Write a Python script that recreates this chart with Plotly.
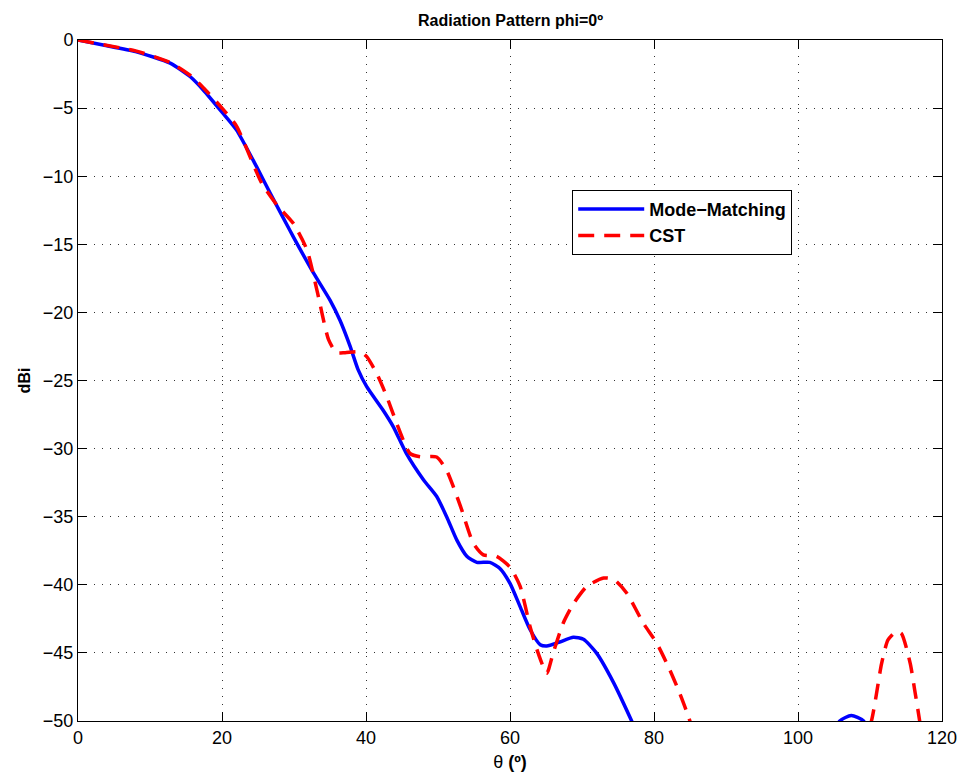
import plotly.graph_objects as go

# Mode-Matching (blue, solid)
mm_theta = [0, 3.5, 8, 12.8, 15.6, 17.4, 20, 22, 24.8, 26.7, 29.4, 30.4, 32.7, 35, 36.4,
            37.8, 38.9, 40.1, 42.4, 43.8, 45.6, 48.0, 49.8, 51.2, 52.6, 54.0, 55.4, 57.2,
            58.6, 60, 61.4, 62.8, 64.2, 65.1, 66.9, 68.8, 70.2, 72, 74.4, 76.9, 79, 82,
            90, 100, 104, 105.8, 107.4, 109.1, 111, 115, 120]
mm_dbi = [0, -0.37, -0.85, -1.7, -2.7, -3.67, -5.3, -6.6, -9.3, -11.25, -13.95, -14.93,
          -17.1, -19.1, -20.6, -22.5, -24.2, -25.45, -27.2, -28.4, -30.35, -32.3, -33.5,
          -35.0, -36.7, -37.9, -38.35, -38.35, -38.8, -39.9, -41.6, -43.3, -44.4, -44.5,
          -44.2, -43.85, -44.0, -45.0, -47.2, -50.0, -52.5, -56, -62, -58, -52, -50.0,
          -49.6, -50.0, -53, -60, -65]

# CST (red, dashed)
cst_theta = [0, 3.5, 8, 12.8, 15.6, 17.4, 20, 22, 25.5, 27.6, 29.9, 31.8, 33.2, 34.8,
             35.9, 37.1, 39.2, 40.1, 41.5, 42.9, 44.3, 46.1, 47.5, 49.8, 51.2, 53.1, 54.9,
             56.3, 58.1, 60, 61.4, 62.8, 63.9, 65.1, 66.0, 67.4, 68.8, 70.7, 73.0, 74.4,
             76.2, 78.5, 80.4, 82.2, 83.6, 84.8, 86.5, 92, 100, 106, 110.2, 110.9, 111.6,
             112.5, 113.7, 114.4, 115.6, 116.2, 116.9, 118, 120]
cst_dbi = [0, -0.35, -0.8, -1.65, -2.6, -3.5, -5.0, -6.3, -10.5, -12.1, -13.46, -15.4,
           -18.4, -22.0, -22.96, -22.96, -22.9, -23.25, -24.5, -26.2, -28.2, -30.35, -30.6,
           -30.62, -31.6, -34.2, -36.95, -37.8, -37.9, -38.7, -40.1, -43.1, -45.0, -46.5,
           -45.0, -42.8, -41.4, -40.1, -39.5, -39.6, -40.6, -42.8, -44.3, -46.25, -48.0,
           -49.7, -52.5, -60, -62, -57, -50.0, -48.0, -45.8, -44.05, -43.4, -43.6, -45.8,
           -47.7, -50.0, -54, -58]

x_ticks = [0, 20, 40, 60, 80, 100, 120]
y_ticks = [0, -5, -10, -15, -20, -25, -30, -35, -40, -45, -50]

FONT = "Liberation Sans, Arial, Helvetica, sans-serif"

fig = go.Figure()
fig.add_trace(go.Scatter(x=mm_theta, y=mm_dbi, mode="lines", name="<b>Mode\u2212Matching</b>",
                         line=dict(color="#0000ff", width=3.5, shape="spline", smoothing=0.6)))
fig.add_trace(go.Scatter(x=cst_theta, y=cst_dbi, mode="lines", name="<b>CST</b>",
                         line=dict(color="#ff0000", width=3.5, dash="16px,10px",
                                   shape="spline", smoothing=0.6)))

axis_common = dict(showline=True, mirror="ticks", linecolor="black", linewidth=1,
                   ticks="inside", ticklen=9, tickcolor="black", tickwidth=1,
                   showgrid=True, gridcolor="#333333", gridwidth=1, griddash="1px,7px",
                   zeroline=False, automargin=False,
                   tickfont=dict(family=FONT, size=18, color="black"))

fig.update_xaxes(range=[0, 120], tickvals=x_ticks, ticktext=[str(v) for v in x_ticks],
                 title=dict(text="\u03b8 <b>(\u00ba)</b>", font=dict(family=FONT, size=18, color="black"),
                            standoff=8),
                 **axis_common)
fig.update_yaxes(range=[-50, 0], tickvals=y_ticks,
                 ticktext=[("\u2212" + str(-v)) if v < 0 else str(v) for v in y_ticks],
                 title=dict(text="<b>dBi</b>", font=dict(family=FONT, size=16, color="black"),
                            standoff=8),
                 **axis_common)

fig.update_layout(
    width=965, height=778,
    margin=dict(l=78, r=23, t=40, b=57),
    paper_bgcolor="white", plot_bgcolor="white",
    title=dict(text="<b>Radiation Pattern phi=0\u00ba</b>", x=0.529, xanchor="center",
               y=1 - 20 / 778, yanchor="middle", yref="container",
               font=dict(family=FONT, size=16, color="black")),
    legend=dict(x=0.572, y=0.78, xanchor="left", yanchor="top", bgcolor="white",
                bordercolor="black", borderwidth=1, font=dict(family=FONT, size=18, color="black"),
                tracegroupgap=0, itemwidth=66),
    showlegend=True,
)

fig.write_html("out.html")
